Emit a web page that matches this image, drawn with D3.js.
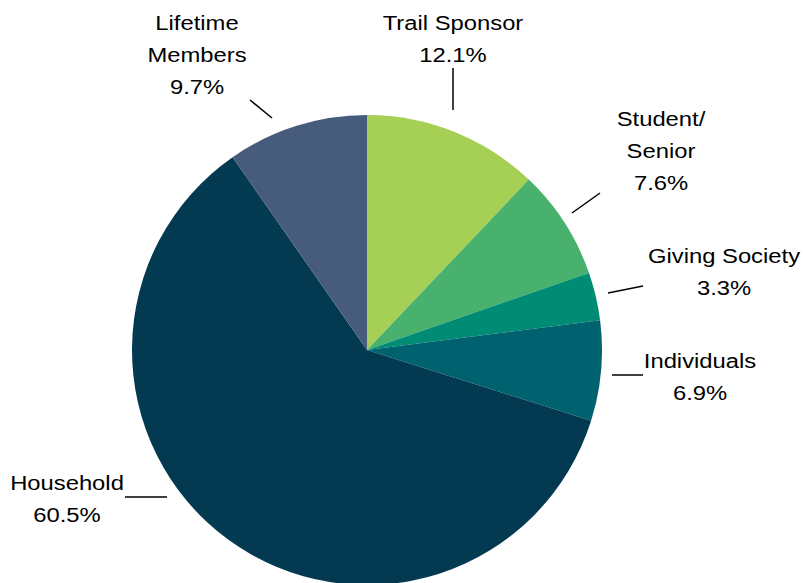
<!DOCTYPE html>
<html>
<head>
<meta charset="utf-8">
<script src="https://cdn.jsdelivr.net/npm/d3@7"></script>
<style>
  html, body { margin: 0; padding: 0; background: #fff; }
  svg { display: block; }
</style>
</head>
<body>
<svg width="803" height="583"></svg>
<script>
// slices, clockwise from 12 o'clock
const categories = ['Trail Sponsor', 'Student/ Senior', 'Giving Society', 'Individuals', 'Household', 'Lifetime Members']
const shares = [12.1, 7.6, 3.3, 6.9, 60.5, 9.7]
const colors = ['#a5cf55', '#47b16d', '#008b74', '#00626f', '#033a52', '#475b7d']

// label text lines, placement and leader lines (layout only)
const labelLines = [
  ['Trail Sponsor'], ['Student/', 'Senior'], ['Giving Society'],
  ['Individuals'], ['Household'], ['Lifetime', 'Members'],
]
const labelPos = [[453, 30], [661, 126], [724, 263], [700, 368], [67, 490], [197, 30]]
const leaders = [
  [453, 110, 453, 68], [572, 213, 600, 193], [608, 293, 643, 286],
  [612, 375, 643, 375], [167, 497, 125, 497], [272, 118, 250, 100],
]

const svg = d3.select('svg')
const cx = 367
const cy = 350
const radius = 235

const pie = d3.pie().sort(null).value((d) => d)
const arc = d3.arc().innerRadius(0).outerRadius(radius)

const g = svg.append('g').attr('transform', `translate(${cx},${cy})`)
g.selectAll('path')
  .data(pie(shares))
  .join('path')
  .attr('d', arc)
  .attr('fill', (d, i) => colors[i])

// leader lines
svg.append('g')
  .selectAll('line')
  .data(leaders)
  .join('line')
  .attr('x1', (d) => d[0])
  .attr('y1', (d) => d[1])
  .attr('x2', (d) => d[2])
  .attr('y2', (d) => d[3])
  .attr('stroke', '#000')
  .attr('stroke-width', 1.5)

// labels (text in the original is a bit wider than normal)
const lineH = 32
const stretch = 1.19
const labels = svg.append('g')
  .attr('font-family', '"Liberation Sans", Arial, sans-serif')
  .attr('font-size', 20)
  .attr('fill', '#000')
  .attr('text-anchor', 'middle')

categories.forEach((c, i) => {
  const t = labels.append('text')
    .attr('transform', `translate(${labelPos[i][0]},${labelPos[i][1]}) scale(${stretch},1)`)
  const rows = labelLines[i].concat([`${shares[i].toFixed(1)}%`])
  rows.forEach((r, j) => {
    t.append('tspan')
      .attr('x', 0)
      .attr('dy', j === 0 ? 0 : lineH)
      .text(r)
  })
})
</script>
</body>
</html>
